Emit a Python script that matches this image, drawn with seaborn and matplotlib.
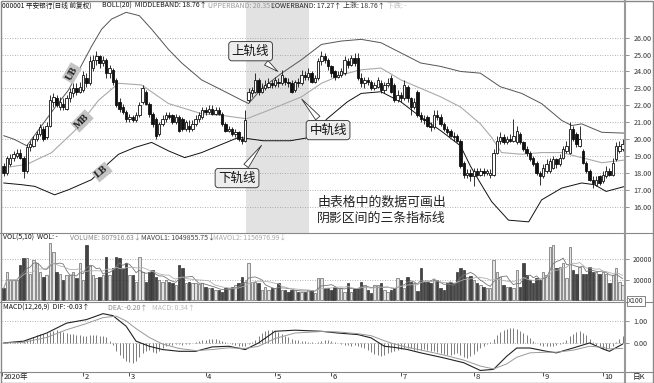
import numpy as np
import pandas as pd
import matplotlib
matplotlib.use("Agg")
import matplotlib.pyplot as plt
from matplotlib.lines import Line2D
from matplotlib.patches import Rectangle
import seaborn as sns

# ---------------- data ----------------
open_ = [
    18.4, 18.0, 18.5, 18.9, 19.0, 19.2, 18.9, 18.1, 19.5, 19.6,
    20.0, 20.3, 20.6, 20.1, 20.8, 22.2, 22.4, 21.9, 22.1, 21.8,
    22.4, 22.7, 23.0, 22.8, 22.9, 23.6, 23.3, 24.2, 24.7, 24.9,
    24.5, 24.7, 23.9, 24.1, 23.5, 22.2, 21.9, 21.6, 21.2, 21.3,
    21.1, 21.4, 22.2, 22.8, 22.1, 21.5, 21.2, 20.3, 20.9, 21.2,
    21.4, 21.4, 21.0, 21.3, 21.2, 20.6, 20.8, 20.6, 20.9, 21.2,
    21.3, 21.7, 21.6, 21.8, 21.5, 21.7, 21.5, 20.9, 20.5, 20.6,
    20.3, 20.4, 20.0, 19.9, 22.3, 22.7, 22.8, 23.5, 22.8, 23.0,
    23.1, 23.3, 23.2, 23.4, 23.3, 23.6, 23.4, 23.3, 22.9, 23.4,
    23.3, 23.8, 23.7, 23.9, 23.4, 23.6, 24.6, 24.9, 24.7, 24.3,
    24.0, 23.7, 23.8, 23.9, 24.6, 24.4, 24.8, 24.8, 23.6, 23.3,
    23.5, 23.4, 23.0, 23.1, 23.3, 22.9, 23.2, 23.6, 23.2, 22.3,
    22.6, 22.4, 23.1, 22.4, 21.9, 22.8, 21.4, 21.2, 21.3, 20.8,
    20.7, 21.4, 21.3, 20.9, 20.6, 20.5, 20.2, 20.2, 19.9, 18.6,
    17.9, 18.0, 17.8, 18.1, 17.9, 18.1, 18.0, 17.9, 17.9, 19.2,
    19.9, 20.1, 19.8, 20.0, 19.9, 19.8, 20.3, 19.8, 19.4, 19.2,
    18.9, 18.6, 18.0, 17.8, 18.1, 18.1, 18.3, 18.8, 18.5, 18.9,
    19.3, 19.2, 20.6, 20.3, 19.6, 19.3, 18.6, 18.1, 17.6, 17.3,
    17.8, 17.5, 17.8, 18.1, 17.9, 18.8, 19.3, 19.4]

close = [
    18.0, 18.9, 18.9, 19.1, 19.2, 18.9, 18.1, 19.5, 19.7, 20.0,
    20.3, 20.7, 20.0, 20.8, 22.3, 22.5, 22.0, 22.2, 21.9, 22.4,
    22.8, 23.0, 22.8, 23.1, 23.8, 23.3, 24.6, 24.7, 24.9, 24.5,
    24.7, 23.9, 24.2, 23.4, 22.0, 21.8, 21.6, 21.2, 21.3, 21.1,
    21.4, 22.0, 23.0, 22.1, 21.5, 20.9, 20.2, 20.9, 21.2, 21.4,
    21.3, 21.0, 21.3, 20.5, 20.6, 21.0, 20.6, 20.9, 21.2, 21.4,
    21.7, 21.6, 21.8, 21.5, 21.7, 21.5, 20.9, 20.5, 20.6, 20.3,
    20.4, 20.0, 19.9, 21.1, 22.8, 22.9, 23.5, 22.8, 23.0, 23.2,
    23.3, 23.2, 23.5, 23.3, 23.8, 23.4, 23.3, 22.8, 23.4, 23.3,
    23.8, 23.7, 23.9, 23.4, 23.6, 24.6, 24.9, 24.7, 24.3, 23.9,
    23.7, 23.8, 24.0, 24.7, 24.4, 24.8, 24.5, 23.6, 23.3, 23.5,
    23.4, 23.0, 23.2, 23.5, 22.9, 23.2, 23.3, 22.8, 22.3, 22.6,
    22.4, 23.2, 22.4, 21.9, 22.2, 21.4, 21.2, 21.1, 20.8, 20.7,
    21.4, 21.3, 20.9, 20.6, 20.4, 20.2, 20.1, 19.9, 18.4, 17.9,
    18.0, 17.8, 18.1, 17.9, 18.1, 18.0, 18.1, 18.0, 19.2, 19.9,
    20.1, 19.8, 20.0, 19.9, 20.2, 20.5, 19.8, 19.4, 19.2, 18.8,
    18.5, 18.0, 17.8, 18.3, 18.5, 18.7, 18.8, 18.5, 18.9, 19.4,
    19.6, 20.6, 20.0, 19.7, 20.0, 18.6, 18.1, 17.6, 17.4, 17.6,
    17.4, 17.9, 18.1, 17.9, 18.6, 19.6, 19.6, 19.7]

high = [
    18.6, 19.0, 19.1, 19.3, 19.4, 19.4, 19.0, 19.7, 19.9, 20.2,
    20.5, 20.9, 20.8, 21.0, 22.6, 22.7, 22.6, 22.5, 22.4, 22.6,
    23.0, 23.3, 23.3, 23.4, 24.0, 23.9, 24.9, 25.0, 25.2, 25.0,
    24.9, 24.8, 24.4, 24.2, 23.6, 22.4, 22.1, 21.7, 21.5, 21.4,
    21.6, 22.2, 23.2, 22.9, 22.2, 21.6, 21.3, 21.0, 21.4, 21.6,
    21.6, 21.5, 21.5, 21.4, 21.3, 21.1, 21.1, 21.1, 21.4, 21.6,
    21.9, 21.9, 22.0, 22.0, 21.9, 21.9, 21.6, 21.0, 20.8, 20.7,
    20.6, 20.5, 20.2, 21.7, 23.0, 23.1, 23.9, 23.6, 23.3, 23.5,
    23.6, 23.5, 23.7, 23.6, 24.1, 23.7, 23.6, 23.5, 23.5, 23.6,
    24.1, 24.0, 24.2, 24.0, 23.8, 24.8, 25.2, 25.1, 24.8, 24.4,
    24.1, 24.0, 24.2, 24.9, 24.8, 25.0, 25.1, 25.1, 23.9, 23.7,
    23.7, 23.5, 23.4, 23.7, 23.5, 23.4, 23.6, 23.8, 23.3, 22.9,
    22.8, 23.5, 23.2, 22.5, 22.4, 22.9, 21.6, 21.4, 21.4, 21.0,
    21.7, 21.7, 21.5, 21.0, 20.8, 20.6, 20.4, 20.3, 20.0, 18.7,
    18.2, 18.2, 18.3, 18.3, 18.3, 18.3, 18.2, 18.2, 19.4, 20.2,
    20.4, 20.3, 20.2, 20.3, 21.2, 20.8, 20.4, 19.9, 19.6, 19.3,
    19.0, 18.7, 18.1, 18.5, 18.8, 18.9, 19.0, 18.9, 19.1, 19.6,
    19.9, 21.0, 20.8, 20.4, 20.8, 19.4, 18.7, 18.2, 17.8, 17.8,
    17.9, 18.1, 18.4, 18.3, 18.9, 19.8, 19.9, 20.0]

low = [
    17.8, 17.9, 18.4, 18.7, 18.9, 18.8, 17.7, 18.0, 19.3, 19.5,
    19.9, 20.2, 19.9, 20.0, 20.7, 21.9, 21.9, 21.7, 21.7, 21.7,
    22.2, 22.5, 22.6, 22.7, 22.8, 23.1, 23.2, 24.0, 24.4, 24.2,
    24.3, 23.6, 23.6, 23.2, 21.9, 21.6, 21.5, 21.0, 21.0, 21.0,
    21.0, 21.3, 22.1, 22.0, 21.3, 20.7, 20.0, 20.2, 20.8, 21.0,
    21.2, 20.9, 20.9, 20.4, 20.5, 20.5, 20.4, 20.5, 20.8, 21.0,
    21.2, 21.4, 21.5, 21.4, 21.4, 21.4, 20.8, 20.4, 20.4, 20.2,
    20.1, 19.9, 19.7, 19.8, 22.2, 22.5, 22.7, 22.6, 22.7, 22.9,
    23.0, 23.0, 23.1, 23.1, 23.2, 23.2, 23.1, 22.7, 22.8, 23.1,
    23.2, 23.5, 23.5, 23.3, 23.3, 23.5, 24.4, 24.5, 24.1, 23.7,
    23.5, 23.6, 23.7, 23.8, 24.2, 24.3, 24.3, 23.5, 23.1, 23.0,
    23.2, 22.9, 22.9, 23.0, 22.7, 22.7, 23.1, 22.7, 22.2, 22.2,
    22.2, 22.3, 22.2, 21.4, 21.8, 21.3, 21.0, 20.9, 20.7, 20.5,
    20.6, 21.1, 20.8, 20.5, 20.3, 20.1, 19.9, 19.8, 18.3, 17.7,
    17.7, 17.5, 17.2, 17.8, 17.8, 17.8, 17.9, 17.7, 17.8, 19.1,
    19.7, 19.7, 19.7, 19.8, 19.8, 19.7, 19.7, 19.3, 19.0, 18.7,
    18.4, 17.9, 17.3, 17.7, 18.0, 18.0, 18.2, 18.3, 18.4, 18.8,
    19.2, 19.1, 19.9, 19.5, 19.5, 18.5, 18.0, 17.5, 17.1, 17.2,
    17.3, 17.4, 17.7, 17.8, 17.8, 18.7, 19.2, 19.3]

volume = [
    5700, 13800, 9800, 9800, 9800, 17000, 20300, 20300, 12900, 19500,
    17900, 13800, 11400, 12200, 27600, 23600, 13800, 12900, 9800, 12200,
    12200, 13800, 10600, 17900, 9800, 26800, 17000, 12200, 10600, 11400,
    12200, 21100, 12200, 15400, 21100, 20300, 15400, 17900, 12200, 12200,
    9000, 21100, 13800, 9000, 13800, 14600, 11400, 9800, 9000, 9800,
    9000, 8100, 7300, 17000, 15400, 8100, 9000, 8100, 8100, 7600,
    8100, 6500, 5700, 5700, 4900, 4900, 4100, 5700, 5700, 6500,
    7300, 8100, 11400, 9000, 17900, 9000, 9000, 8100, 4900, 6500,
    4900, 5700, 5700, 8100, 4900, 4900, 4100, 4900, 4900, 4100,
    4100, 4100, 4900, 4900, 3300, 10600, 10600, 5700, 5700, 4900,
    6500, 5700, 5700, 4100, 8100, 4100, 5700, 5700, 9000, 7300,
    4900, 3300, 7300, 7300, 8100, 4900, 4100, 4900, 5700, 10900,
    9800, 5700, 11400, 9000, 8100, 4400, 15700, 9000, 9000, 8100,
    9800, 9800, 5700, 4900, 8100, 9000, 8100, 13800, 15700, 14600,
    11400, 11900, 9800, 8100, 7300, 6500, 5700, 5700, 19500, 13800,
    11400, 7300, 6500, 6500, 5700, 14600, 6500, 17900, 12200, 9800,
    8100, 10600, 9800, 13800, 12200, 25900, 26800, 15400, 16300, 17900,
    10600, 25900, 14600, 12900, 16300, 12900, 12900, 16300, 13800, 13800,
    12900, 13800, 12900, 8100, 12200, 15400, 9000, 7300]

ub_idx = [0, 3, 7, 11.5, 16, 19.6, 23.6, 26.6, 29.6, 32.6, 37, 41, 44.7, 49.8,
          53.8, 59.8, 65.9, 71.9, 74, 78, 84, 90, 96, 102, 108, 114, 120, 126,
          132, 138, 144, 150, 156.5, 162.5, 168.6, 171.6, 174.6, 180.7, 187.7]
ub_val = [20.2, 20.0, 19.6, 20.8, 22.0, 22.9, 24.4, 25.5, 26.5, 27.1, 27.5, 27.3,
          26.5, 25.3, 24.5, 23.5, 22.9, 22.3, 22.1, 23.0, 23.9, 24.7, 25.6, 25.8,
          25.9, 25.7, 25.1, 24.5, 24.3, 24.0, 23.9, 23.1, 22.7, 22.1, 21.1, 20.8,
          20.9, 20.4, 20.35]

mb_idx = [0, 7, 14.5, 21.5, 28.7, 34.7, 41.7, 49.8, 59.8, 65.9, 73.4, 80, 90, 96,
          102, 108, 114, 120, 126, 132, 138, 144, 147.4, 150.4, 156.5, 162.5,
          168.6, 174.6, 180.7, 187.7]
mb_val = [18.3, 18.5, 19.2, 20.5, 22.3, 23.3, 23.2, 22.1, 21.5, 21.4, 21.2, 21.7,
          22.5, 23.3, 23.8, 24.1, 24.2, 23.5, 23.0, 22.5, 21.9, 20.9, 20.1, 19.2,
          19.1, 19.2, 19.2, 18.9, 18.6, 18.76]

lb_idx = [0, 5.4, 9.4, 15.4, 19.6, 26.6, 29.6, 34.7, 39.6, 44.7, 49.8, 54.7, 59.8,
          71, 78.4, 86.6, 92.6, 97.7, 103.8, 108, 114, 120, 126, 132, 138, 141,
          144, 147.4, 152.5, 158.6, 162.5, 168.6, 174.6, 178.5, 182, 187.7]
lb_val = [17.4, 17.3, 17.2, 16.7, 17.0, 17.6, 18.2, 19.1, 19.5, 19.8, 19.3, 18.9,
          19.2, 20.1, 19.9, 19.9, 20.1, 21.2, 22.2, 22.7, 22.8, 22.2, 21.3, 20.5,
          19.6, 18.4, 17.4, 16.3, 15.2, 15.1, 16.4, 17.1, 17.4, 17.3, 16.9, 17.2]

dif_idx = [0, 6, 13, 19, 25, 30, 33, 37, 40, 44, 48, 53, 58, 63, 68, 73, 77, 82,
           88, 96, 101, 107, 111, 115, 118, 122, 126, 133, 139, 144, 148, 152,
           155, 159, 164, 167, 172, 177, 181, 183, 187]
dif_val = [0.0, 0.08, 0.45, 0.9, 1.06, 1.33, 1.24, 0.76, 0.08, -0.15, -0.3, -0.38,
           -0.38, -0.18, -0.15, -0.3, 0.0, 0.53, 0.58, 0.53, 0.45, 0.38, 0.23,
           -0.15, -0.2, -0.3, -0.45, -0.68, -0.9, -1.25, -1.2, -0.6, -0.23, -0.23,
           -0.38, -0.45, -0.23, 0.0, -0.27, -0.38, -0.05]
dea_idx = [0, 6, 13, 19, 25, 30, 34, 37, 40, 44, 48, 53, 58, 63, 68, 73, 77, 82,
           88, 96, 101, 107, 111, 115, 118, 122, 126, 133, 139, 144, 148, 152,
           155, 159, 164, 167, 172, 177, 181, 183, 187]
dea_val = [0.0, 0.03, 0.25, 0.6, 0.88, 1.15, 1.22, 1.0, 0.65, 0.25, -0.05, -0.25,
           -0.35, -0.3, -0.22, -0.25, -0.15, 0.2, 0.45, 0.52, 0.5, 0.42, 0.33, 0.1,
           -0.05, -0.2, -0.32, -0.55, -0.78, -1.05, -1.18, -0.95, -0.65, -0.45,
           -0.42, -0.42, -0.33, -0.15, -0.2, -0.27, -0.25]

macd_hist = [
    0.02, 0.03, 0.03, 0.05, 0.05, 0.05, 0.10, 0.15, 0.20, 0.28,
    0.35, 0.40, 0.42, 0.45, 0.50, 0.55, 0.58, 0.55, 0.50, 0.45,
    0.42, 0.40, 0.38, 0.35, 0.32, 0.30, 0.35, 0.38, 0.36, 0.33,
    0.30, 0.25, 0.10, -0.10, -0.35, -0.55, -0.70, -0.80, -0.85, -0.90,
    -0.80, -0.65, -0.45, -0.35, -0.30, -0.40, -0.45, -0.35, -0.25, -0.15,
    -0.10, -0.08, -0.05, -0.05, -0.08, -0.06, -0.03, 0.02, 0.05, 0.08,
    0.12, 0.15, 0.18, 0.20, 0.18, 0.15, 0.10, 0.05, -0.02, -0.05,
    -0.10, -0.12, -0.15, -0.12, -0.05, 0.05, 0.15, 0.30, 0.45, 0.55,
    0.60, 0.58, 0.55, 0.48, 0.40, 0.32, 0.25, 0.20, 0.15, 0.12,
    0.10, 0.08, 0.05, 0.03, 0.02, 0.05, 0.08, 0.12, 0.15, 0.10,
    0.05, 0.00, -0.05, -0.08, -0.10, -0.12, -0.10, -0.12, -0.18, -0.25,
    -0.30, -0.40, -0.50, -0.55, -0.60, -0.55, -0.45, -0.40, -0.35, -0.30,
    -0.28, -0.25, -0.22, -0.25, -0.30, -0.32, -0.30, -0.28, -0.30, -0.35,
    -0.38, -0.40, -0.45, -0.50, -0.55, -0.55, -0.50, -0.45, -0.55, -0.65,
    -0.70, -0.60, -0.50, -0.35, -0.25, -0.15, -0.05, 0.05, 0.20, 0.35,
    0.48, 0.58, 0.65, 0.68, 0.66, 0.62, 0.55, 0.45, 0.35, 0.22,
    0.10, 0.00, -0.08, -0.12, -0.15, -0.15, -0.12, -0.10, -0.05, 0.05,
    0.15, 0.30, 0.42, 0.50, 0.52, 0.45, 0.35, 0.20, 0.05, -0.10,
    -0.20, -0.28, -0.30, -0.25, -0.15, 0.05, 0.20, 0.30]

month_pos = [-0.4, 24, 38, 61, 82, 99, 120, 142, 163, 181]
month_lbl = ["2020年", "2", "3", "4", "5", "6", "7", "8", "9", "10"]
price_ticks = [16, 17, 18, 19, 20, 21, 22, 23, 24, 25, 26]
vol_ticks = [10000, 20000]
macd_ticks = [0.0, 1.0]

# ---------------- style ----------------
sns.set_theme(style="white")
plt.rcParams["font.family"] = ["Noto Sans CJK SC", "DejaVu Sans"]
plt.rcParams["axes.unicode_minus"] = False

W, H = 654, 383
fig = plt.figure(figsize=(W / 100, H / 100), dpi=100)
fig.patch.set_facecolor("white")


def box(x0, y0, x1, y1):
    return [x0 / W, 1 - y1 / H, (x1 - x0) / W, (y1 - y0) / H]


ax_p = fig.add_axes(box(2, 1, 625, 233))
ax_v = fig.add_axes(box(2, 233, 625, 302), sharex=ax_p)
ax_m = fig.add_axes(box(2, 302, 625, 372), sharex=ax_p)

n = len(close)
idx = np.arange(n)
o = np.array(open_)
c = np.array(close)
hi = np.array(high)
lo = np.array(low)
up = c >= o
body_lo = np.minimum(o, c)
body_h = np.maximum(np.abs(c - o), 0.05)

for ax in (ax_p, ax_v, ax_m):
    ax.set_facecolor("none")
    for s in ax.spines.values():
        s.set_visible(False)
    ax.yaxis.tick_right()
    ax.tick_params(axis="y", labelsize=5.2, labelcolor="#333", colors="#666",
                   length=3, width=0.5, pad=3, direction="out")
    ax.tick_params(axis="x", bottom=False, labelbottom=False)
    ax.yaxis.grid(True, linestyle=(0, (1, 2)), color="#999", lw=0.6)
    ax.xaxis.grid(False)
    ax.set_axisbelow(True)

ax_p.set_xlim(-0.5, 187.7)

# ---- price panel ----
ax_p.axvspan(73.2, 92.3, color="#e2e2e2", lw=0, zorder=0)
ax_p.vlines(idx, lo, hi, color="#111", lw=0.6, zorder=3)
ax_p.bar(idx[up], body_h[up], bottom=body_lo[up], width=0.72, color="white",
         edgecolor="#111", lw=0.6, zorder=4)
ax_p.bar(idx[~up], body_h[~up], bottom=body_lo[~up], width=0.72, color="#111",
         edgecolor="#111", lw=0.6, zorder=4)
sns.lineplot(x=ub_idx, y=ub_val, ax=ax_p, color="#555", lw=0.7, zorder=2)
sns.lineplot(x=mb_idx, y=mb_val, ax=ax_p, color="#aaa", lw=0.8, zorder=2)
sns.lineplot(x=lb_idx, y=lb_val, ax=ax_p, color="#111", lw=0.7, zorder=2)
ax_p.set_ylim(14.44, 28.17)
ax_p.set_yticks(price_ticks)
ax_p.set_yticklabels([f"{t:.2f}" for t in price_ticks])
ax_p.set_xlabel("")
ax_p.set_ylabel("")

serif = ["Liberation Serif", "DejaVu Serif"]
for txt, xi, yv, rot in [("UB", 20.6, 23.9, 60), ("MB", 23.7, 21.07, 45),
                          ("LB", 29.7, 18.05, 40)]:
    ax_p.text(xi, yv, txt, rotation=rot, ha="center", va="center", fontsize=7.5,
              fontweight="bold", family=serif, color="#222", zorder=6,
              bbox=dict(boxstyle="square,pad=0.18", fc="#c4c4c4", ec="none"))

call_box = dict(boxstyle="round,pad=0.25", fc="#ededed", ec="#444", lw=0.7)
wedge = dict(arrowstyle="wedge,tail_width=0.45,shrink_factor=0.5", fc="white",
             ec="#333", lw=0.6)
for txt, (tx, ty), (px, py) in [("上轨线", (74.6, 25.2), (83.5, 23.9)),
                                ("中轨线", (98.0, 20.53), (89.5, 22.49)),
                                ("下轨线", (70.5, 17.69), (78.4, 19.76))]:
    ax_p.annotate(txt, xy=(px, py), xytext=(tx, ty), ha="center", va="center",
                  fontsize=9, color="#111", bbox=call_box, arrowprops=wedge,
                  zorder=7)

ax_p.text(94.7, 15.8, "由表格中的数据可画出\n阴影区间的三条指标线", ha="left",
          va="center", fontsize=9.3, color="#222", linespacing=1.35, zorder=6)

# ---- volume panel ----
vol = np.array(volume, dtype=float)
vs = pd.Series(vol)
ma5 = vs.rolling(5, min_periods=1).mean()
ma10 = vs.rolling(10, min_periods=1).mean()
ax_v.bar(idx[up], vol[up], width=0.72, color="#e4e4e4", edgecolor="#666",
         lw=0.5, zorder=3)
ax_v.bar(idx[~up], vol[~up], width=0.72, color="#444", edgecolor="#333",
         lw=0.5, zorder=3)
sns.lineplot(x=idx, y=ma5.values, ax=ax_v, color="#777", lw=0.6, zorder=4)
sns.lineplot(x=idx, y=ma10.values, ax=ax_v, color="#b0b0b0", lw=0.6, zorder=4)
ax_v.set_ylim(-980, 32700)
ax_v.set_yticks(vol_ticks)
ax_v.set_yticklabels([str(t) for t in vol_ticks])
ax_v.tick_params(axis="y", labelsize=4.9, pad=2.5)
ax_v.set_xlabel("")
ax_v.set_ylabel("")

# ---- MACD panel ----
ax_m.vlines(idx, 0, macd_hist, color="#666", lw=0.6, zorder=3)
sns.lineplot(x=dif_idx, y=dif_val, ax=ax_m, color="#222", lw=0.8, zorder=4)
sns.lineplot(x=dea_idx, y=dea_val, ax=ax_m, color="#999", lw=0.7, zorder=4)
ax_m.set_ylim(-1.32, 1.86)
ax_m.set_yticks(macd_ticks)
ax_m.set_yticklabels([f"{t:.2f}" for t in macd_ticks])
ax_m.set_xlabel("")
ax_m.set_ylabel("")
ax_m.set_xticks(month_pos)
ax_m.tick_params(axis="x", bottom=True, labelbottom=False, length=3,
                 width=0.6, colors="#333", direction="out")
tr = ax_m.get_xaxis_transform()
for pos, lbl in zip(month_pos, month_lbl):
    ax_m.text(pos + 0.5, -0.075, lbl, transform=tr, ha="left", va="center",
              fontsize=5.5, color="#222")
ax_p.tick_params(axis="x", bottom=False, labelbottom=False)
ax_v.tick_params(axis="x", bottom=False, labelbottom=False)


# ---- header texts ----
def ftxt(x, y, s, color="#111", size=5.0, **kw):
    fig.text(x / W, 1 - y / H, s, ha="left", va="center", fontsize=size,
             color=color, **kw)


ftxt(2, 6, "000001 平安银行(日线 前复权)", "#111", 4.8)
ftxt(102, 6, "BOLL(20)  MIDDLEBAND: 18.76↑", "#111")
ftxt(208, 6, "UPPERBAND: 20.35↑", "#9a9a9a")
ftxt(271, 6, "LOWERBAND: 17.27↑", "#222")
ftxt(343, 6, "上涨: 18.76↑", "#333")
ftxt(387, 6, "下跌: -", "#bbbbbb")

ftxt(3, 238, "VOL(5,10)  WOL: -", "#111")
ftxt(70, 238, "VOLUME: 807916.63↓", "#888")
ftxt(141, 238, "MAVOL1: 1049855.75↓", "#444")
ftxt(213, 238, "MAVOL2: 1156976.99↓", "#aaa")

ftxt(3, 308, "MACD(12,26,9)  DIF: -0.03↑", "#111")
ftxt(108, 308, "DEA: -0.20↑", "#888")
ftxt(152, 308, "MACD: 0.34↑", "#bbb")

fig.text(628 / W, 1 - 301 / H, "X100", ha="left", va="center", fontsize=5,
         color="#333", bbox=dict(boxstyle="square,pad=0.15", fc="white",
                                 ec="#555", lw=0.5))
fig.text(633 / W, 1 - 377 / H, "日K", ha="left", va="center", fontsize=5.5,
         color="#222")

# ---- frame lines ----
for yy in (233, 302, 372):
    fig.add_artist(Line2D([0, 1], [1 - yy / H, 1 - yy / H],
                          transform=fig.transFigure, color="#888", lw=0.8))
fig.add_artist(Line2D([625 / W, 625 / W], [0, 1], transform=fig.transFigure,
                      color="#999", lw=1.5))
fig.add_artist(Rectangle((0.001, 0.001), 0.998, 0.997, transform=fig.transFigure,
                         fill=False, ec="#888", lw=1))

fig.savefig("out.png", dpi=100, facecolor="white")
